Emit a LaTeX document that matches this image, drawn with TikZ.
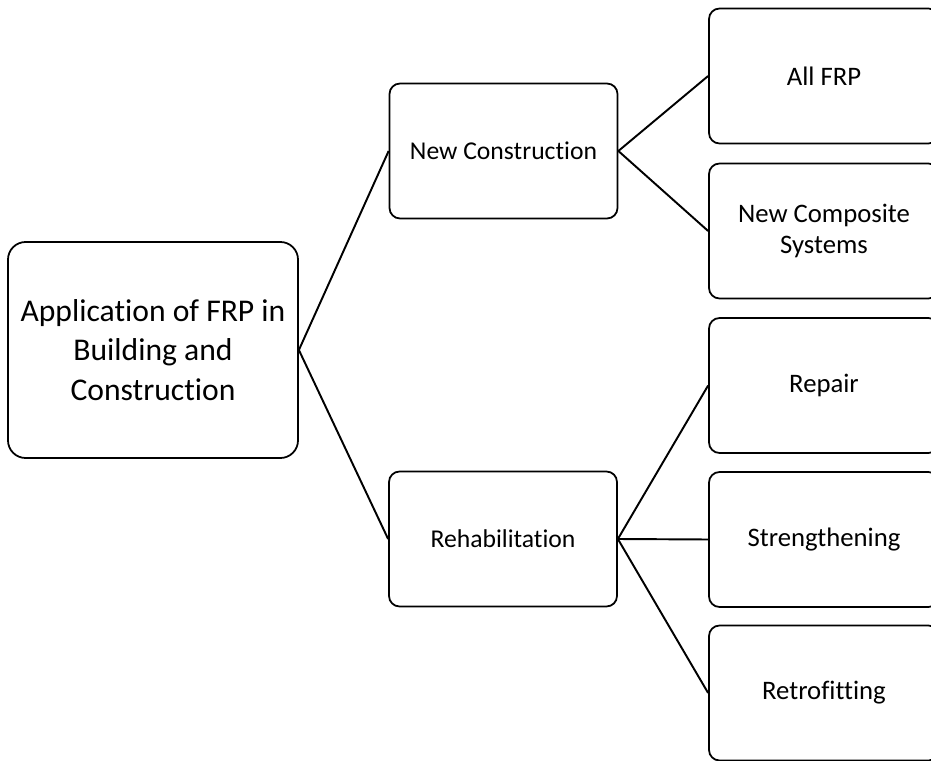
\documentclass[tikz,border=0pt]{standalone}
\usepackage{fontspec}
\setmainfont{Carlito}[Ligatures=NoCommon]
\usetikzlibrary{positioning}

\begin{document}
\begin{tikzpicture}[
    box/.style={rectangle, draw=black, line width=1pt, fill=white,
                rounded corners=6pt, minimum width=4.56cm, minimum height=2.7cm,
                font=\fontsize{14.6}{17.5}\selectfont, align=center},
    rootbox/.style={box, rounded corners=10pt, minimum width=5.8cm,
                minimum height=4.32cm, font=\fontsize{18}{22.5}\selectfont},
    leaf/.style={box, minimum width=4.6cm, font=\fontsize{15.2}{17.5}\selectfont},
    link/.style={draw=black, line width=1.1pt}
  ]
  \useasboundingbox (0,0) rectangle (18.62,-15.22);

  \node[rootbox] (app) at (3.06,-7.0) {Application of FRP in\\Building and\\Construction};

  \node[box] (newc) at (10.07,-3.02)  {New Construction};
  \node[box] (rehab) at (10.06,-10.78) {Rehabilitation};

  \node[leaf] (allfrp) at (16.48,-1.52)  {All FRP};
  \node[leaf] (ncs)    at (16.48,-4.62)  {New Composite\\Systems};
  \node[leaf] (repair) at (16.48,-7.71)  {Repair};
  \node[leaf] (streng) at (16.48,-10.79) {Strengthening};
  \node[leaf] (retro)  at (16.48,-13.86) {Retrofitting};

  \draw[link] (app.east) -- (newc.west);
  \draw[link] (app.east) -- (rehab.west);
  \draw[link] (newc.east) -- (allfrp.west);
  \draw[link] (newc.east) -- (ncs.west);
  \draw[link] (rehab.east) -- (repair.west);
  \draw[link] (rehab.east) -- (streng.west);
  \draw[link] (rehab.east) -- (retro.west);
\end{tikzpicture}
\end{document}
